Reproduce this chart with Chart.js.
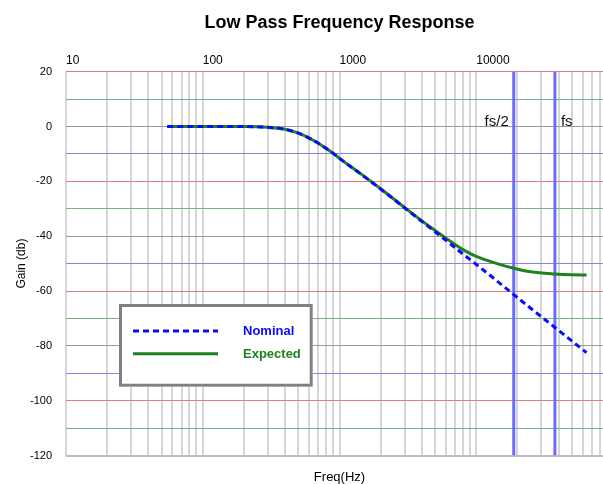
<!DOCTYPE html>
<html>
<head>
<meta charset="utf-8">
<script src="https://cdn.jsdelivr.net/npm/chart.js@4.4.1/dist/chart.umd.min.js"></script>
<style>
  html, body { margin: 0; padding: 0; background: #fff; overflow: hidden; }
  #wrap { width: 615px; height: 484px; }
</style>
</head>
<body>
<div id="wrap"><canvas id="myChart" width="615" height="484"></canvas></div>
<script>
var freqs    = [55, 100, 200, 300, 400, 500, 600, 700, 800, 900, 1000, 1500, 2000, 3000, 4000, 5000, 6000, 7000, 8000, 10000, 14000, 18800, 25000, 37600, 50000, 64000];
// gain (db)
var nominal  = [0, 0, 0, -0.3, -1.0, -2.4, -4.2, -6.1, -8.0, -9.8, -11.6, -18.1, -22.8, -29.7, -34.6, -38.4, -41.5, -44.2, -46.5, -50.3, -56.1, -61.3, -66.3, -73.3, -78.2, -82.5];
var expected = [0, 0, 0, -0.3, -1.0, -2.4, -4.2, -6.1, -8.0, -9.8, -11.6, -18.0, -22.7, -29.6, -34.4, -37.9, -40.7, -43.0, -44.9, -47.4, -49.9, -51.7, -53.0, -53.8, -54.1, -54.2];

// sampling markers
var fsHalf = 18800;
var fs = 37600;

// axes
var freqLabels = [10, 100, 1000, 10000];
var freqMin = 10, freqMax = 100000;
var gainMin = -120, gainMax = 20;

var FONT = "'Liberation Sans', Arial, sans-serif";

function toPoints(vals) {
  return freqs.map(function (f, i) { return { x: f, y: vals[i] }; });
}

// grid colours of the horizontal lines repeat every 40 db
var hColors = { 0: '#999999', 10: '#7fae7f', 20: '#e07e7e', 30: '#8484ea' };

// legend box + fs labels
var extras = {
  id: 'extras',
  afterDatasetsDraw: function (chart) {
    var ctx = chart.ctx;
    var x = chart.scales.x, y = chart.scales.y;
    ctx.save();

    // fs labels
    ctx.font = '15px ' + FONT;
    ctx.fillStyle = '#111';
    ctx.textBaseline = 'middle';
    ctx.textAlign = 'right';
    ctx.fillText('fs/2', x.getPixelForValue(fsHalf) - 5, y.getPixelForValue(1.8));
    ctx.textAlign = 'left';
    ctx.fillText('fs', x.getPixelForValue(fs) + 6, y.getPixelForValue(1.8));

    // legend
    ctx.fillStyle = '#fff';
    ctx.fillRect(119, 304, 194, 83);
    ctx.lineWidth = 3;
    ctx.strokeStyle = '#808080';
    ctx.strokeRect(120.5, 305.5, 190.7, 79.7);

    var sets = [chart.data.datasets[0], chart.data.datasets[1]];
    sets.forEach(function (ds, i) {
      var ly = 331 + i * 22.7;
      ctx.beginPath();
      ctx.lineWidth = ds.borderWidth;
      ctx.strokeStyle = ds.borderColor;
      ctx.setLineDash(ds.borderDash || []);
      ctx.moveTo(133, ly);
      ctx.lineTo(218, ly);
      ctx.stroke();
      ctx.setLineDash([]);
      ctx.font = 'bold 13px ' + FONT;
      ctx.fillStyle = ds.borderColor;
      ctx.textAlign = 'left';
      ctx.textBaseline = 'middle';
      ctx.fillText(ds.label, 243, ly + 0.7);
    });
    ctx.restore();
  }
};

var ctx = document.getElementById('myChart').getContext('2d');
var myChart = new Chart(ctx, {
  type: 'line',
  data: {
    datasets: [
      {
        label: 'Nominal',
        data: toPoints(nominal),
        borderColor: '#0a0aff',
        borderWidth: 3,
        borderDash: [6, 4],
        pointRadius: 0,
        cubicInterpolationMode: 'monotone',
        order: 0
      },
      {
        label: 'Expected',
        data: toPoints(expected),
        borderColor: '#1e821e',
        borderWidth: 3,
        pointRadius: 0,
        cubicInterpolationMode: 'monotone',
        order: 1
      },
      {
        label: 'fs/2',
        data: [{ x: fsHalf, y: gainMax }, { x: fsHalf, y: gainMin }],
        borderColor: '#6b6bff',
        borderWidth: 3,
        pointRadius: 0,
        order: 2
      },
      {
        label: 'fs',
        data: [{ x: fs, y: gainMax }, { x: fs, y: gainMin }],
        borderColor: '#6b6bff',
        borderWidth: 3,
        pointRadius: 0,
        order: 2
      }
    ]
  },
  options: {
    responsive: false,
    animation: false,
    devicePixelRatio: 1,
    events: [],
    layout: { padding: { left: 0, right: 2, top: 0, bottom: 0 } },
    plugins: {
      legend: { display: false },
      tooltip: { enabled: false },
      title: {
        display: true,
        text: 'Low Pass Frequency Response',
        fullSize: false,
        color: '#000',
        font: { family: FONT, size: 18, weight: 'bold', lineHeight: 1.2 },
        padding: { top: 12, bottom: 0 }
      },
      subtitle: {
        display: true,
        text: 'Freq(Hz)',
        position: 'bottom',
        fullSize: false,
        color: '#000',
        font: { family: FONT, size: 13, lineHeight: 1 },
        padding: { top: 15.5, bottom: 0 }
      }
    },
    scales: {
      x: {
        type: 'logarithmic',
        position: 'top',
        min: freqMin,
        max: freqMax,
        z: -1,
        border: { display: false },
        grid: { color: '#d6d6d6', lineWidth: 2, drawTicks: false },
        ticks: {
          autoSkip: false,
          maxRotation: 0,
          align: 'start',
          padding: 4,
          color: '#000',
          font: { family: FONT, size: 12 },
          callback: function (v) {
            return freqLabels.indexOf(v) >= 0 ? String(v) : '';
          }
        },
        afterBuildTicks: function (scale) {
          var t = [];
          for (var d = freqMin; d < freqMax; d *= 10) {
            for (var m = 1; m < 10; m++) t.push({ value: d * m });
          }
          t.push({ value: freqMax });
          scale.ticks = t;
        },
        afterFit: function (scale) {
          scale.height = 38.1;
          scale.paddingLeft = 0;
          scale.paddingRight = 0;
        }
      },
      y: {
        min: gainMin,
        max: gainMax,
        border: { display: false },
        grid: {
          drawTicks: false,
          color: function (c) {
            var v = c.tick.value;
            if (v === gainMin) return '#bdbdbd';
            return hColors[((v % 40) + 40) % 40];
          },
          lineWidth: function (c) { return c.tick.value === gainMin ? 2 : 1; }
        },
        ticks: {
          stepSize: 10,
          padding: 14,
          color: '#000',
          font: { family: FONT, size: 11 },
          callback: function (v) { return v % 20 === 0 ? v : ''; }
        },
        title: {
          display: true,
          text: 'Gain (db)',
          color: '#000',
          font: { family: FONT, size: 12 },
          padding: { top: 14, bottom: 0 }
        },
        afterFit: function (scale) {
          scale.width = 66;
        }
      }
    }
  },
  plugins: [extras]
});
</script>
</body>
</html>
